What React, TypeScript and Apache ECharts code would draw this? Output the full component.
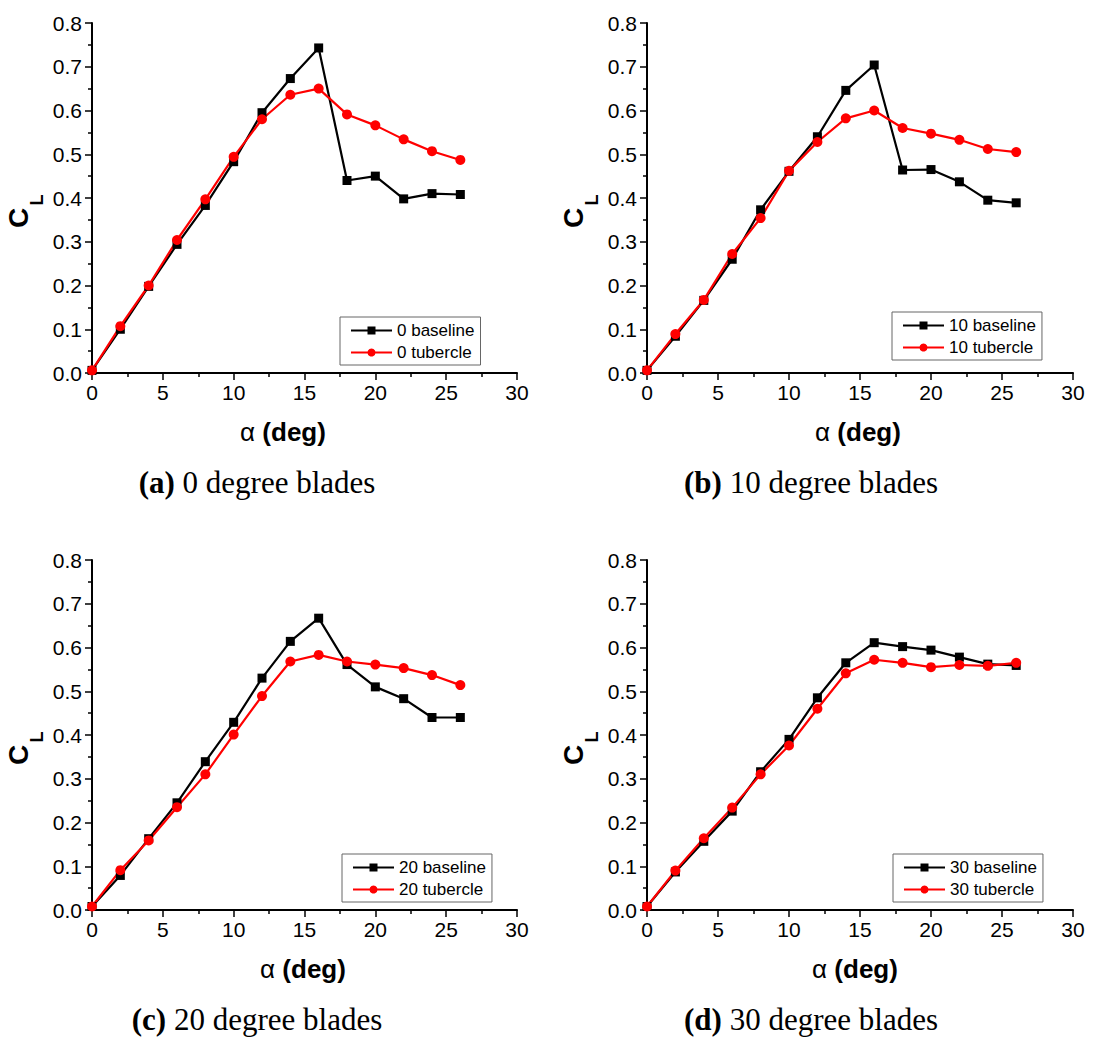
import React, { useEffect, useRef } from 'react';
import * as echarts from 'echarts';

// Angle of attack (deg)
const ALPHA = [0, 2, 4, 6, 8, 10, 12, 14, 16, 18, 20, 22, 24, 26];

// (a) 0 degree blades
const BASE_0 = [0.006, 0.1, 0.198, 0.294, 0.383, 0.483, 0.595, 0.673, 0.743, 0.44, 0.45, 0.398, 0.41, 0.408];
const TUB_0 = [0.006, 0.107, 0.2, 0.304, 0.397, 0.494, 0.58, 0.636, 0.65, 0.591, 0.566, 0.534, 0.507, 0.487];
// (b) 10 degree blades
const BASE_10 = [0.006, 0.084, 0.166, 0.26, 0.373, 0.461, 0.54, 0.646, 0.704, 0.464, 0.465, 0.437, 0.395, 0.389];
const TUB_10 = [0.006, 0.089, 0.167, 0.272, 0.354, 0.462, 0.528, 0.582, 0.6, 0.56, 0.547, 0.533, 0.512, 0.505];
// (c) 20 degree blades
const BASE_20 = [0.008, 0.079, 0.163, 0.245, 0.339, 0.429, 0.53, 0.614, 0.667, 0.561, 0.51, 0.483, 0.44, 0.44];
const TUB_20 = [0.008, 0.091, 0.159, 0.235, 0.31, 0.401, 0.489, 0.568, 0.583, 0.568, 0.561, 0.553, 0.537, 0.514];
// (d) 30 degree blades
const BASE_30 = [0.008, 0.087, 0.157, 0.226, 0.316, 0.39, 0.485, 0.565, 0.611, 0.602, 0.594, 0.578, 0.562, 0.559];
const TUB_30 = [0.008, 0.09, 0.164, 0.234, 0.31, 0.376, 0.46, 0.541, 0.572, 0.565, 0.555, 0.56, 0.558, 0.565];

const PANEL_NAMES = ['0', '10', '20', '30'];
const CAPTION_LETTERS = ['(a)', '(b)', '(c)', '(d)'];
const CAPTION_TEXTS = ['0 degree blades', '10 degree blades', '20 degree blades', '30 degree blades'];
const BASELINES = [BASE_0, BASE_10, BASE_20, BASE_30];
const TUBERCLES = [TUB_0, TUB_10, TUB_20, TUB_30];

const SANS = '"Liberation Sans", Arial, Helvetica, sans-serif';
const SERIF = '"Liberation Serif", "Times New Roman", Times, serif';

// layout
const GRIDS = [
  { left: 92, top: 23, width: 425, height: 350 },
  { left: 647, top: 23, width: 426, height: 350 },
  { left: 92, top: 560, width: 425, height: 350 },
  { left: 647, top: 560, width: 426, height: 350 },
];
const LEGEND_POS = [
  { left: 340, top: 317 },
  { left: 892, top: 312 },
  { left: 342, top: 854 },
  { left: 893, top: 854 },
];
const XTITLE_CX = [283, 858, 303, 855];
const CAPTION_CX = [257, 811, 257, 811];

export default function App() {
  const ref = useRef<HTMLDivElement>(null);

  useEffect(() => {
    if (!ref.current) return;
    const chart = echarts.init(ref.current, null, { renderer: 'svg' });

    const axisLine = { show: true, onZero: false, lineStyle: { color: '#000', width: 2 } };
    const axisTick = { show: true, inside: false, length: 7, lineStyle: { color: '#000', width: 1.5 } };
    const minorTick = { show: true, splitNumber: 2, length: 4, lineStyle: { color: '#000', width: 1.5 } };

    const xAxis = GRIDS.map((_, i) => ({
      type: 'value',
      gridIndex: i,
      min: 0,
      max: 30,
      interval: 5,
      axisLine,
      axisTick,
      minorTick,
      splitLine: { show: false },
      minorSplitLine: { show: false },
      axisLabel: { color: '#000', fontSize: 21, fontFamily: SANS, margin: 9 },
    }));
    const yAxis = GRIDS.map((_, i) => ({
      type: 'value',
      gridIndex: i,
      min: 0,
      max: 0.8,
      interval: 0.1,
      axisLine,
      axisTick,
      minorTick,
      splitLine: { show: false },
      minorSplitLine: { show: false },
      axisLabel: {
        color: '#000',
        fontSize: 21,
        fontFamily: SANS,
        margin: 10,
        formatter: (v: number) => v.toFixed(1),
      },
    }));

    const series: any[] = [];
    PANEL_NAMES.forEach((p, i) => {
      series.push({
        name: `${p} baseline`,
        type: 'line',
        xAxisIndex: i,
        yAxisIndex: i,
        data: ALPHA.map((a, k) => [a, BASELINES[i][k]]),
        symbol: 'rect',
        symbolSize: 9,
        lineStyle: { color: '#000', width: 2.2 },
        itemStyle: { color: '#000' },
        clip: false,
      });
      series.push({
        name: `${p} tubercle`,
        type: 'line',
        xAxisIndex: i,
        yAxisIndex: i,
        data: ALPHA.map((a, k) => [a, TUBERCLES[i][k]]),
        symbol: 'circle',
        symbolSize: 10,
        lineStyle: { color: '#ff0000', width: 2.2 },
        itemStyle: { color: '#ff0000' },
        clip: false,
      });
    });

    const legend = PANEL_NAMES.map((p, i) => ({
      data: [`${p} baseline`, `${p} tubercle`],
      orient: 'vertical',
      left: LEGEND_POS[i].left,
      top: LEGEND_POS[i].top,
      padding: [5, 6, 4, 10],
      itemGap: 5,
      itemWidth: 41,
      itemHeight: 10,
      borderColor: '#666',
      borderWidth: 1,
      backgroundColor: '#fff',
      selectedMode: false,
      textStyle: { fontSize: 17, color: '#000', fontFamily: SANS },
    }));

    const graphic: any[] = [];
    GRIDS.forEach((g, i) => {
      // x-axis title
      graphic.push({
        type: 'text',
        x: XTITLE_CX[i],
        y: g.top + g.height + 59,
        style: {
          text: '{a|α\u00a0}{b|(deg)}',
          align: 'center',
          verticalAlign: 'middle',
          fill: '#000',
          rich: {
            a: { fontSize: 26, fontFamily: SANS, fontWeight: 'normal', fill: '#000' },
            b: { fontSize: 26, fontFamily: SANS, fontWeight: 'bold', fill: '#000' },
          },
        },
      });
      // y-axis title C_L
      graphic.push({
        type: 'text',
        x: g.left - 74,
        y: g.top + 195,
        rotation: Math.PI / 2,
        style: {
          text: 'C',
          font: `bold 28px ${SANS}`,
          fill: '#000',
          align: 'center',
          verticalAlign: 'middle',
        },
      });
      graphic.push({
        type: 'text',
        x: g.left - 55,
        y: g.top + 177,
        rotation: Math.PI / 2,
        style: {
          text: 'L',
          font: `bold 18px ${SANS}`,
          fill: '#000',
          align: 'center',
          verticalAlign: 'middle',
        },
      });
      // caption
      graphic.push({
        type: 'text',
        x: CAPTION_CX[i],
        y: g.top + g.height + 109,
        style: {
          text: `{b|${CAPTION_LETTERS[i]}\u00a0}{r|${CAPTION_TEXTS[i]}}`,
          align: 'center',
          verticalAlign: 'middle',
          fill: '#000',
          rich: {
            b: { fontSize: 31, fontFamily: SERIF, fontWeight: 'bold', fill: '#000' },
            r: { fontSize: 31, fontFamily: SERIF, fontWeight: 'normal', fill: '#000' },
          },
        },
      });
    });

    chart.setOption({
      animation: false,
      backgroundColor: '#fff',
      grid: GRIDS.map((g) => ({ ...g, containLabel: false })),
      xAxis,
      yAxis,
      legend,
      series,
      graphic,
    });

    return () => chart.dispose();
  }, []);

  return (
    <div
      ref={ref}
      style={{ position: 'absolute', left: 0, top: 0, width: 1095, height: 1037, background: '#fff' }}
    />
  );
}
